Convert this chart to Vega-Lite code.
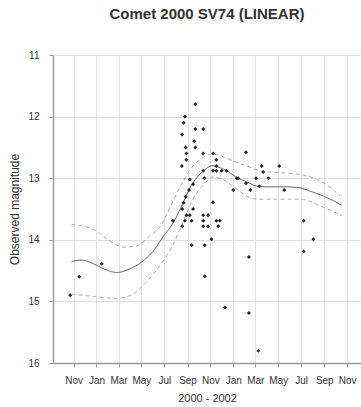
{
  "$schema": "https://vega.github.io/schema/vega-lite/v6.json",
  "width": 308,
  "height": 308,
  "autosize": {"type": "none"},
  "padding": {"left": 53, "top": 55, "right": 0, "bottom": 44},
  "background": "white",
  "config": {
    "view": {"stroke": null},
    "font": "Liberation Sans"
  },
  "title": {
    "text": "Comet 2000 SV74 (LINEAR)",
    "font": "Liberation Sans",
    "fontSize": 15,
    "fontWeight": "bold",
    "color": "#333333",
    "anchor": "middle",
    "offset": 28
  },
  "datasets": {
    "obs": [
      {"date": "2000-10-23", "mag": 14.90},
      {"date": "2000-11-16", "mag": 14.60},
      {"date": "2001-01-15", "mag": 14.39},
      {"date": "2001-07-24", "mag": 13.69},
      {"date": "2001-08-17", "mag": 12.80},
      {"date": "2001-08-18", "mag": 13.78},
      {"date": "2001-08-18", "mag": 12.29},
      {"date": "2001-08-18", "mag": 13.50},
      {"date": "2001-08-22", "mag": 13.40},
      {"date": "2001-08-22", "mag": 12.10},
      {"date": "2001-08-25", "mag": 12.00},
      {"date": "2001-08-25", "mag": 13.69},
      {"date": "2001-08-27", "mag": 13.30},
      {"date": "2001-08-27", "mag": 12.50},
      {"date": "2001-08-29", "mag": 12.60},
      {"date": "2001-08-29", "mag": 12.70},
      {"date": "2001-08-29", "mag": 13.60},
      {"date": "2001-09-05", "mag": 13.19},
      {"date": "2001-09-07", "mag": 13.02},
      {"date": "2001-09-07", "mag": 13.60},
      {"date": "2001-09-12", "mag": 13.69},
      {"date": "2001-09-12", "mag": 14.09},
      {"date": "2001-09-16", "mag": 13.10},
      {"date": "2001-09-16", "mag": 13.50},
      {"date": "2001-09-19", "mag": 12.40},
      {"date": "2001-09-22", "mag": 11.80},
      {"date": "2001-09-22", "mag": 12.20},
      {"date": "2001-09-22", "mag": 12.50},
      {"date": "2001-10-13", "mag": 12.20},
      {"date": "2001-10-13", "mag": 12.60},
      {"date": "2001-10-13", "mag": 12.88},
      {"date": "2001-10-13", "mag": 13.60},
      {"date": "2001-10-13", "mag": 13.69},
      {"date": "2001-10-13", "mag": 13.78},
      {"date": "2001-10-16", "mag": 13.00},
      {"date": "2001-10-17", "mag": 14.09},
      {"date": "2001-10-17", "mag": 14.59},
      {"date": "2001-10-26", "mag": 13.60},
      {"date": "2001-10-26", "mag": 13.78},
      {"date": "2001-11-04", "mag": 13.99},
      {"date": "2001-11-08", "mag": 13.39},
      {"date": "2001-11-08", "mag": 12.88},
      {"date": "2001-11-09", "mag": 12.60},
      {"date": "2001-11-17", "mag": 12.70},
      {"date": "2001-11-17", "mag": 12.80},
      {"date": "2001-11-17", "mag": 12.88},
      {"date": "2001-11-17", "mag": 13.69},
      {"date": "2001-11-22", "mag": 13.78},
      {"date": "2001-11-26", "mag": 13.69},
      {"date": "2001-12-01", "mag": 12.88},
      {"date": "2001-12-10", "mag": 15.10},
      {"date": "2001-12-14", "mag": 12.88},
      {"date": "2002-01-01", "mag": 13.19},
      {"date": "2002-01-10", "mag": 13.00},
      {"date": "2002-01-14", "mag": 13.00},
      {"date": "2002-02-04", "mag": 12.58},
      {"date": "2002-02-04", "mag": 13.08},
      {"date": "2002-02-12", "mag": 14.28},
      {"date": "2002-02-12", "mag": 15.19},
      {"date": "2002-02-16", "mag": 13.19},
      {"date": "2002-03-03", "mag": 13.00},
      {"date": "2002-03-09", "mag": 15.80},
      {"date": "2002-03-12", "mag": 13.13},
      {"date": "2002-03-18", "mag": 12.80},
      {"date": "2002-03-22", "mag": 12.90},
      {"date": "2002-04-05", "mag": 13.00},
      {"date": "2002-05-04", "mag": 12.80},
      {"date": "2002-05-17", "mag": 13.19},
      {"date": "2002-07-08", "mag": 13.69},
      {"date": "2002-07-08", "mag": 14.19},
      {"date": "2002-08-03", "mag": 13.99}
    ],
    "curves": [
      {"series": "fit", "date": "2000-10-27", "mag": 14.35},
      {"series": "fit", "date": "2000-11-23", "mag": 14.33},
      {"series": "fit", "date": "2000-12-24", "mag": 14.39},
      {"series": "fit", "date": "2001-01-20", "mag": 14.47},
      {"series": "fit", "date": "2001-02-24", "mag": 14.53},
      {"series": "fit", "date": "2001-04-01", "mag": 14.47},
      {"series": "fit", "date": "2001-05-06", "mag": 14.34},
      {"series": "fit", "date": "2001-06-02", "mag": 14.18},
      {"series": "fit", "date": "2001-06-29", "mag": 13.94},
      {"series": "fit", "date": "2001-07-25", "mag": 13.72},
      {"series": "fit", "date": "2001-08-21", "mag": 13.39},
      {"series": "fit", "date": "2001-09-08", "mag": 13.15},
      {"series": "fit", "date": "2001-09-26", "mag": 12.99},
      {"series": "fit", "date": "2001-10-14", "mag": 12.88},
      {"series": "fit", "date": "2001-11-05", "mag": 12.80},
      {"series": "fit", "date": "2001-11-27", "mag": 12.83},
      {"series": "fit", "date": "2001-12-15", "mag": 12.88},
      {"series": "fit", "date": "2002-01-11", "mag": 12.99},
      {"series": "fit", "date": "2002-02-06", "mag": 13.06},
      {"series": "fit", "date": "2002-03-05", "mag": 13.13},
      {"series": "fit", "date": "2002-03-18", "mag": 13.14},
      {"series": "fit", "date": "2002-05-15", "mag": 13.14},
      {"series": "fit", "date": "2002-06-20", "mag": 13.15},
      {"series": "fit", "date": "2002-08-03", "mag": 13.23},
      {"series": "fit", "date": "2002-09-17", "mag": 13.34},
      {"series": "fit", "date": "2002-10-18", "mag": 13.44},
      {"series": "upper", "date": "2000-10-27", "mag": 13.75},
      {"series": "upper", "date": "2000-12-24", "mag": 13.83},
      {"series": "upper", "date": "2001-02-06", "mag": 14.02},
      {"series": "upper", "date": "2001-03-14", "mag": 14.12},
      {"series": "upper", "date": "2001-04-18", "mag": 14.10},
      {"series": "upper", "date": "2001-05-23", "mag": 13.94},
      {"series": "upper", "date": "2001-06-24", "mag": 13.75},
      {"series": "upper", "date": "2001-07-18", "mag": 13.45},
      {"series": "upper", "date": "2001-08-21", "mag": 13.04},
      {"series": "upper", "date": "2001-09-16", "mag": 12.80},
      {"series": "upper", "date": "2001-10-14", "mag": 12.66},
      {"series": "upper", "date": "2001-11-05", "mag": 12.61},
      {"series": "upper", "date": "2001-12-01", "mag": 12.64},
      {"series": "upper", "date": "2002-01-01", "mag": 12.72},
      {"series": "upper", "date": "2002-02-06", "mag": 12.80},
      {"series": "upper", "date": "2002-03-14", "mag": 12.88},
      {"series": "upper", "date": "2002-05-06", "mag": 12.91},
      {"series": "upper", "date": "2002-06-29", "mag": 12.94},
      {"series": "upper", "date": "2002-08-12", "mag": 13.02},
      {"series": "upper", "date": "2002-09-17", "mag": 13.15},
      {"series": "upper", "date": "2002-10-13", "mag": 13.29},
      {"series": "lower", "date": "2000-10-27", "mag": 14.88},
      {"series": "lower", "date": "2000-12-24", "mag": 14.92},
      {"series": "lower", "date": "2001-02-24", "mag": 14.95},
      {"series": "lower", "date": "2001-04-09", "mag": 14.88},
      {"series": "lower", "date": "2001-05-14", "mag": 14.69},
      {"series": "lower", "date": "2001-06-19", "mag": 14.42},
      {"series": "lower", "date": "2001-07-25", "mag": 14.07},
      {"series": "lower", "date": "2001-08-21", "mag": 13.70},
      {"series": "lower", "date": "2001-09-16", "mag": 13.34},
      {"series": "lower", "date": "2001-10-14", "mag": 13.10},
      {"series": "lower", "date": "2001-11-08", "mag": 12.98},
      {"series": "lower", "date": "2001-12-04", "mag": 13.02},
      {"series": "lower", "date": "2002-01-11", "mag": 13.18},
      {"series": "lower", "date": "2002-02-06", "mag": 13.29},
      {"series": "lower", "date": "2002-03-05", "mag": 13.34},
      {"series": "lower", "date": "2002-05-15", "mag": 13.34},
      {"series": "lower", "date": "2002-06-29", "mag": 13.34},
      {"series": "lower", "date": "2002-08-21", "mag": 13.45},
      {"series": "lower", "date": "2002-10-18", "mag": 13.61}
    ]
  },
  "layer": [
    {
      "data": {"name": "curves"},
      "mark": {"type": "line", "interpolate": "monotone", "strokeWidth": 1},
      "encoding": {
        "x": {
          "field": "date", "type": "temporal",
          "scale": {"domain": ["2000-09-07", "2002-12-08"]},
          "axis": {
            "tickCount": {"interval": "month", "step": 2},
            "labelExpr": "timeFormat(datum.value, '%b')",
            "title": "2000 - 2002",
            "titleFont": "Liberation Sans",
            "titleFontSize": 11,
            "titleFontWeight": "normal",
            "titleColor": "#333333",
            "titlePadding": 7,
            "labelFont": "Liberation Sans",
            "labelFontSize": 10,
            "labelColor": "#333333",
            "labelPadding": 8,
            "labelOverlap": false,
            "labelSeparation": 0,
            "labelFlush": false,
            "tickSize": 4,
            "tickColor": "#999999",
            "domainColor": "#999999",
            "domainWidth": 1.5,
            "grid": true,
            "gridColor": "#d8d8d8",
            "gridWidth": 0.8
          }
        },
        "y": {
          "field": "mag", "type": "quantitative",
          "scale": {"domain": [11, 16], "reverse": true, "nice": false, "zero": false},
          "axis": {
            "values": [11, 12, 13, 14, 15, 16],
            "format": "d",
            "title": "Observed magnitude",
            "titleFont": "Liberation Sans",
            "titleFontSize": 12,
            "titleFontWeight": "normal",
            "titleColor": "#333333",
            "titlePadding": 6,
            "labelFont": "Liberation Sans",
            "labelFontSize": 10,
            "labelColor": "#333333",
            "labelPadding": 10,
            "tickSize": 4,
            "tickColor": "#999999",
            "domainColor": "#999999",
            "domainWidth": 1.5,
            "grid": true,
            "gridColor": "#d8d8d8",
            "gridWidth": 0.8
          }
        },
        "detail": {"field": "series"},
        "color": {
          "field": "series", "type": "nominal",
          "scale": {"domain": ["fit", "upper", "lower"], "range": ["#555555", "#aaaaaa", "#aaaaaa"]},
          "legend": null
        },
        "strokeDash": {
          "field": "series", "type": "nominal",
          "scale": {"domain": ["fit", "upper", "lower"], "range": [[1, 0], [4, 3], [4, 3]]},
          "legend": null
        }
      }
    },
    {
      "data": {"name": "obs"},
      "mark": {"type": "point", "shape": "diamond", "filled": true, "size": 16, "color": "#222222", "opacity": 1},
      "encoding": {
        "x": {"field": "date", "type": "temporal"},
        "y": {"field": "mag", "type": "quantitative"}
      }
    },
    {
      "mark": {"type": "rule", "color": "#999999", "strokeWidth": 1.5},
      "encoding": {"y": {"datum": 11}}
    }
  ]
}
